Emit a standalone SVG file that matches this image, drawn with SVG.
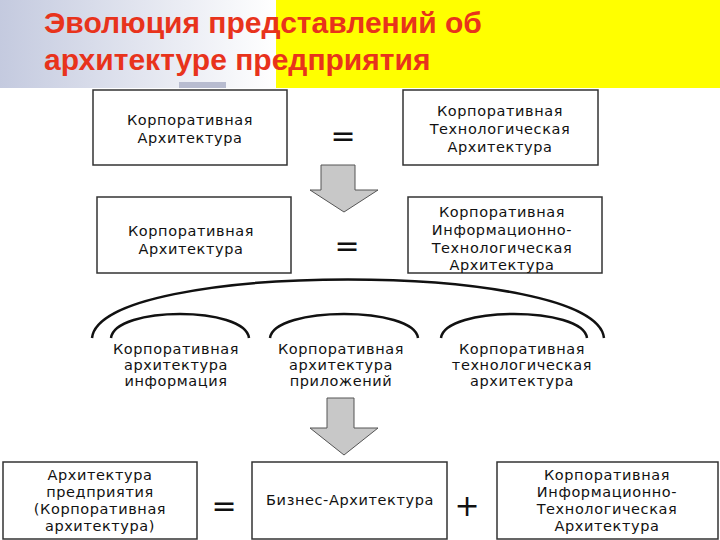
<svg xmlns="http://www.w3.org/2000/svg" width="720" height="540" viewBox="0 0 720 540">
<defs>
<linearGradient id="hg" x1="0" y1="0" x2="1" y2="0"><stop offset="0" stop-color="#c4cadf"/><stop offset="1" stop-color="#ffffff"/></linearGradient>
<style>
.b{fill:#fff;stroke:#333;stroke-width:1.5}
.t{font-family:"DejaVu Sans",sans-serif;font-size:14.5px;fill:#111;text-anchor:middle;letter-spacing:0.6px}
.op{font-family:"DejaVu Sans",sans-serif;font-size:30px;fill:#111;text-anchor:middle}
.ar{fill:#c8c8c8;stroke:#555;stroke-width:1}
.arc{fill:none;stroke:#111;stroke-width:2.5}
.ti{font-family:"Liberation Sans",Arial,sans-serif;font-weight:bold;font-size:30px;fill:#e8331c}
</style>
</defs>
<rect width="720" height="540" fill="#fff"/>
<g id="header">
<rect x="0" y="0" width="276" height="88" fill="url(#hg)"/>
<rect x="276" y="0" width="444" height="88" fill="#ffff00"/>
<rect x="179" y="82" width="47" height="6" fill="#b8bcd0"/>
<text class="ti" x="44" y="33">Эволюция представлений об</text>
<text class="ti" x="44" y="70">архитектуре предприятия</text>
</g>
<g id="n1"><rect class="b" x="93" y="90" width="194" height="75"/><text class="t" x="190" y="125">Корпоративная</text><text class="t" x="190" y="143">Архитектура</text></g>
<g id="n2"><rect class="b" x="403" y="90" width="195" height="75"/><text class="t" x="500" y="116">Корпоративная</text><text class="t" x="500" y="134">Технологическая</text><text class="t" x="500" y="152">Архитектура</text></g>
<text class="op" x="343" y="146">=</text>
<g id="n3"><rect class="b" x="97" y="197" width="194" height="76"/><text class="t" x="191" y="236">Корпоративная</text><text class="t" x="191" y="254">Архитектура</text></g>
<g id="n4"><rect class="b" x="408" y="197" width="194" height="76"/><text class="t" x="502" y="217">Корпоративная</text><text class="t" x="502" y="235">Информационно-</text><text class="t" x="502" y="253">Технологическая</text><text class="t" x="502" y="270">Архитектура</text></g>
<text class="op" x="347" y="256">=</text>
<g id="connectors">
<path class="ar" d="M321,165 H355 V190 H378 L344,212 L310,190 H321 Z"/>
<path class="arc" d="M92,338 C100,260 596,260 604,338"/>
<path class="arc" d="M111,338 C115,306 245,306 249,338"/>
<path class="arc" d="M270,338 C274,306 414,306 418,338"/>
<path class="arc" d="M441,338 C445,306 583,306 587,338"/>
<path class="ar" d="M327,398 H354 V428 H378 L344,455 L310,428 H327 Z"/>
</g>
<g id="l1"><text class="t" x="176" y="354">Корпоративная</text><text class="t" x="176" y="370">архитектура</text><text class="t" x="176" y="386">информация</text></g>
<g id="l2"><text class="t" x="341" y="354">Корпоративная</text><text class="t" x="341" y="370">архитектура</text><text class="t" x="341" y="386">приложений</text></g>
<g id="l3"><text class="t" x="522" y="354">Корпоративная</text><text class="t" x="522" y="370">технологическая</text><text class="t" x="522" y="386">архитектура</text></g>
<g id="n5"><rect class="b" x="3" y="462" width="194" height="77"/><text class="t" x="100" y="480">Архитектура</text><text class="t" x="100" y="497">предприятия</text><text class="t" x="100" y="514">(Корпоративная</text><text class="t" x="100" y="531">архитектура)</text></g>
<text class="op" x="224" y="516">=</text>
<g id="n6"><rect class="b" x="252" y="462" width="195" height="77"/><text class="t" x="350" y="505">Бизнес-Архитектура</text></g>
<text class="op" x="467" y="516">+</text>
<g id="n7"><rect class="b" x="497" y="462" width="221" height="77"/><text class="t" x="607" y="480">Корпоративная</text><text class="t" x="607" y="497">Информационно-</text><text class="t" x="607" y="514">Технологическая</text><text class="t" x="607" y="531">Архитектура</text></g>
</svg>
